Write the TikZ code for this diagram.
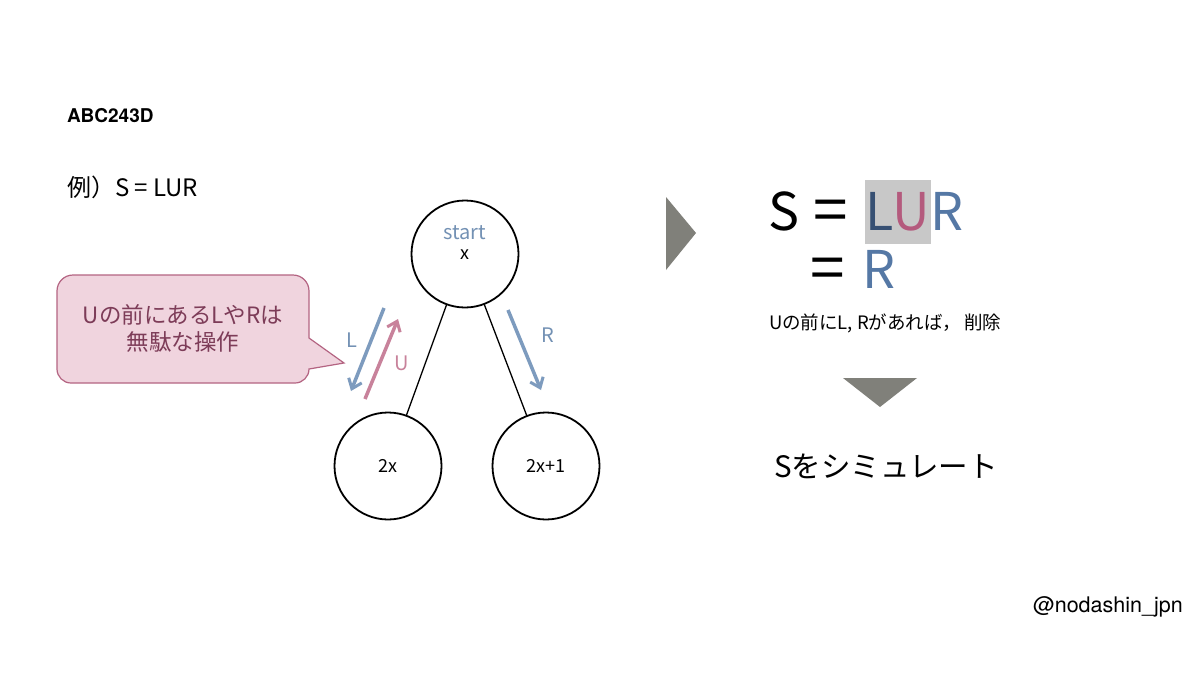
\documentclass[tikz,border=0pt]{standalone}
\usepackage{fontspec}
\setmainfont{Noto Sans CJK JP}
\newfontfamily\jp{Noto Sans CJK JP}
\newfontfamily\hv{TeX Gyre Heros}
\usetikzlibrary{arrows.meta}
\definecolor{arrblue}{RGB}{125,155,190}
\definecolor{arrpink}{RGB}{200,130,155}
\definecolor{startblue}{RGB}{115,145,180}
\definecolor{bubfill}{RGB}{240,212,222}
\definecolor{bubdraw}{RGB}{180,100,130}
\definecolor{bubtext}{RGB}{125,60,88}
\definecolor{navyL}{RGB}{55,80,115}
\definecolor{pinkU}{RGB}{180,90,125}
\definecolor{blueR}{RGB}{85,120,165}
\definecolor{boxgray}{RGB}{200,200,200}
\definecolor{trigray}{RGB}{128,128,122}
\tikzset{
  every node/.style={inner sep=0pt, outer sep=0pt},
  treenode/.style={circle, draw=black, line width=1.8pt, minimum size=107pt, font=\jp\fontsize{18}{20}\selectfont},
  edge/.style={draw=black, line width=1.3pt},
  movearrow/.style={line width=3.5pt, -{Straight Barb[length=9pt,width=14pt,line width=3pt]}},
  bubble/.style={fill=bubfill, draw=bubdraw, line width=1.2pt},
  tri/.style={fill=trigray, draw=none},
  bigtxt/.style={anchor=base, font=\jp\fontsize{52}{60}\selectfont},
  bigeq/.style={anchor=base, font=\jp\fontsize{62}{70}\selectfont},
}
\begin{document}
\begin{tikzpicture}[x=1pt,y=-1pt]
\useasboundingbox[fill=white] (0,0) rectangle (1200,675);

% header texts
\node[anchor=base west, font=\hv\bfseries\fontsize{19}{22}\selectfont] (title) at (67,122) {ABC243D};
\node[anchor=base west, font=\jp\fontsize{24}{28}\selectfont] (example) at (67,196) {例）S = LUR};

% tree
\node[treenode] (top) at (465,254) {};
\node[font=\jp\fontsize{20}{22}\selectfont, text=startblue] (startlbl) at (465,233) {start};
\node[font=\jp\fontsize{18}{20}\selectfont] (xlbl) at (465,255) {x};
\node[treenode] (left) at (388,466) {2x};
\node[treenode] (right) at (546,466) {2x+1};
\draw[edge] (top) -- (left);
\draw[edge] (top) -- (right);

% moves
\coordinate (Ls) at (384,308); \coordinate (Le) at (351,391);
\coordinate (Us) at (365,399); \coordinate (Ue) at (398,319);
\coordinate (Rs) at (508,310); \coordinate (Re) at (541,390);
\draw[movearrow, arrblue] (Ls) -- (Le);
\draw[movearrow, arrpink] (Us) -- (Ue);
\draw[movearrow, arrblue] (Rs) -- (Re);
\node[font=\jp\fontsize{20}{22}\selectfont, text=startblue] (Llbl) at (352,340) {L};
\node[font=\jp\fontsize{20}{22}\selectfont, text=arrpink] (Ulbl) at (402,363) {U};
\node[font=\jp\fontsize{20}{22}\selectfont, text=startblue] (Rlbl) at (548,335) {R};

% speech bubble
\draw[bubble] (57,329) [rounded corners=16pt] -- (57,275) -- (309,275) [sharp corners] -- (309,338) -- (344,363) -- (309,369) [rounded corners=14pt] -- (309,383) -- (57,383) [sharp corners] -- cycle;
\node[align=center, text=bubtext, font=\jp\fontsize{22.5}{27}\selectfont] (bubtxt) at (183,328) {Uの前にあるLやRは\\無駄な操作};

% right triangle
\fill[tri] (666,197) -- (696,233) -- (666,270) -- cycle;

% big formula
\fill[boxgray] (865,180) rectangle (931,244);
\node[bigtxt] (S) at (784,230) {S};
\node[bigeq] (eq1) at (831,232) {=};
\node[bigtxt, text=navyL] (bL) at (880,230) {L};
\node[bigtxt, text=pinkU] (bU) at (911,230) {U};
\node[bigtxt, text=blueR] (bR) at (947,230) {R};
\node[bigeq] (eq2) at (828,290) {=};
\node[bigtxt, text=blueR] (bR2) at (879,288) {R};

\node[anchor=base west, font=\jp\fontsize{18.5}{22}\selectfont] (note) at (769,329) {Uの前にL, Rがあれば，\,削除};

% down triangle
\fill[tri] (843,378) -- (917,378) -- (880,407) -- cycle;

\node[anchor=base west, font=\jp\fontsize{29.5}{32}\selectfont] (sim) at (774,477) {Sをシミュレート};

\node[anchor=base west, font=\hv\fontsize{21.5}{24}\selectfont] (author) at (1033,612) {@nodashin\_jpn};
\end{tikzpicture}
\end{document}
